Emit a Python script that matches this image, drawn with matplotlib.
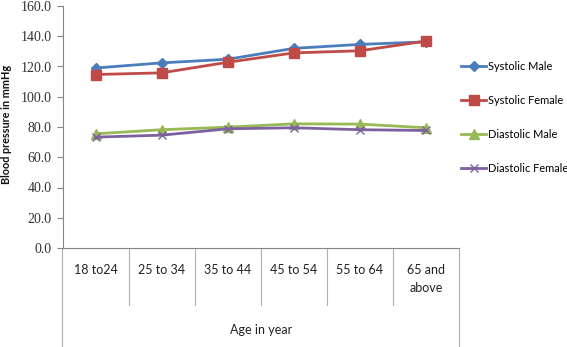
import matplotlib
matplotlib.use("Agg")
import matplotlib.pyplot as plt
from matplotlib.lines import Line2D

categories = ["18 to24", "25 to 34", "35 to 44", "45 to 54", "55 to 64", "65 and\nabove"]
systolic_male = [119.0, 122.4, 124.8, 132.0, 134.6, 136.3]
systolic_female = [114.7, 115.8, 122.8, 129.0, 130.4, 136.8]
diastolic_male = [75.5, 78.2, 79.9, 82.1, 81.9, 79.5]
diastolic_female = [73.3, 74.6, 78.8, 79.5, 78.2, 77.7]
series_names = ["Systolic Male", "Systolic Female", "Diastolic Male", "Diastolic Female"]
y_ticks = [0, 20, 40, 60, 80, 100, 120, 140, 160]

W, H = 567, 347
fig = plt.figure(figsize=(W / 100, H / 100), dpi=100)
ax = fig.add_axes([62.5 / W, 1 - 248 / H, (459 - 62.5) / W, (248 - 6) / H])

gray = "#868686"
n = len(categories)
x = list(range(n))
styles = [
    (systolic_male, "#4A7EBB", "D", 5.5),
    (systolic_female, "#BE4B48", "s", 7),
    (diastolic_male, "#98B954", "^", 7),
    (diastolic_female, "#7D60A0", "x", 6),
]
handles = []
for (vals, col, mk, ms), name in zip(styles, series_names):
    (h,) = ax.plot(x, vals, color=col, lw=2, marker=mk, markersize=ms,
                   markeredgecolor=col, markerfacecolor=col, markeredgewidth=1.0, label=name,
                   zorder=3)
    handles.append(h)

ax.set_xlim(-0.5, n - 0.5)
ax.set_ylim(0, 160)
ax.set_yticks(y_ticks)
ax.set_yticklabels([f"{v:.1f}" for v in y_ticks], family="Liberation Serif", fontsize=10, color="#333333")
ax.tick_params(axis="y", length=4, color=gray, width=0.8, pad=4)
ax.set_xticks([])
for s in ["top", "right"]:
    ax.spines[s].set_visible(False)
ax.spines["left"].set_color(gray)
ax.spines["bottom"].set_color(gray)
ax.spines["left"].set_linewidth(0.8)
ax.spines["bottom"].set_linewidth(0.8)

fig.text(7 / W, 1 - 124 / H, "Blood pressure in mmHg", rotation=90, ha="center", va="center",
         family="Lato", fontweight="bold", fontsize=7.8, color="#111111")

# multi-level category axis
trans = ax.get_xaxis_transform()
def ypx(p):
    return (248 - p) / (248 - 6)

for i in range(1, n):
    ax.add_line(Line2D([i - 0.5, i - 0.5], [0, ypx(305)], transform=trans, color="#B0B0B0",
                       lw=0.8, clip_on=False))
for xe in [-0.5, n - 0.5]:
    ax.add_line(Line2D([xe, xe], [0, ypx(347)], transform=trans, color="#B0B0B0",
                       lw=0.8, clip_on=False))
for i, c in enumerate(categories):
    ax.text(i, ypx(264), c, transform=trans, ha="center", va="top", family="Lato",
            fontsize=9, color="#222222", linespacing=1.6)
ax.text((n - 1) / 2, ypx(330), "Age in year", transform=trans, ha="center", va="center",
        family="Lato", fontsize=9, color="#222222")

leg = fig.legend(handles=handles, labels=series_names, loc="upper left",
                 bbox_to_anchor=(461 / W, 1 - 61 / H), frameon=False,
                 prop={"family": "Lato", "size": 7.9}, labelspacing=2.1,
                 handlelength=2.3, handletextpad=0.15, borderpad=0, borderaxespad=0)

fig.savefig("out.png", dpi=100)
